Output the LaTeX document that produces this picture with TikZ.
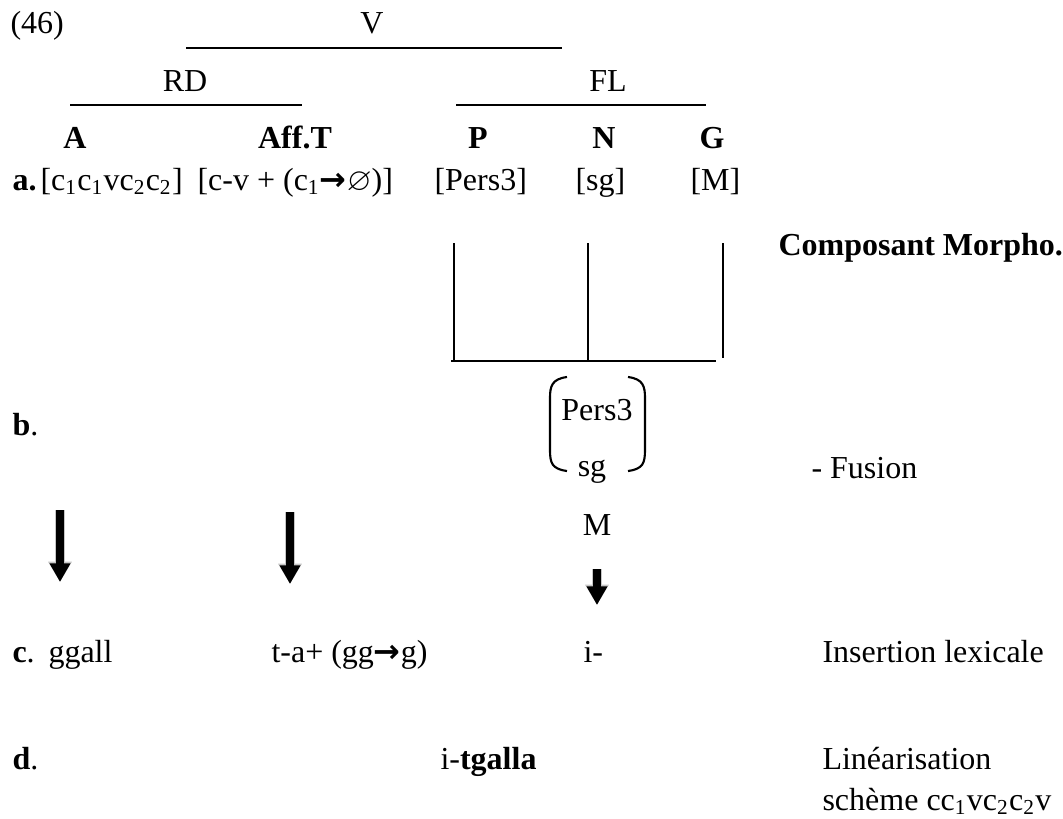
\documentclass[tikz,border=0pt]{standalone}
\usepackage{amssymb}
\usepackage{fontspec}
\setmainfont{Liberation Serif}
\newfontfamily\arrowfont{DejaVu Sans}
\usetikzlibrary{arrows.meta}

\newcommand{\ruleto}{{\arrowfont\bfseries →}}
\newcommand{\cs}[1]{c\textsubscript{#1}}

\begin{document}
\begin{tikzpicture}[
  x=0.375pt,y=-0.375pt,
  every node/.style={font=\fontsize{12pt}{14pt}\selectfont},
  txt/.style={inner sep=0pt,anchor=base west},
  ctr/.style={inner sep=0pt,anchor=base},
  bar/.style={line width=0.8pt},
  fat/.style={line width=3.2pt,-{Triangle[width=7.4pt,length=7pt]},
    preaction={draw=gray!45,line width=4pt,-{Triangle[width=8.4pt,length=7.6pt]}}}
]
  \useasboundingbox (0,0) rectangle (1063,819);
  % tree
  \node[txt] (ex) at (10,33) {(46)};
  \node[ctr] (v) at (372,33) {V};
  \draw[bar] (186,48) -- (562,48);
  \node[ctr] (rd) at (185,91) {RD};
  \node[ctr] (fl) at (608,91) {FL};
  \draw[bar] (70,105) -- (302,105);
  \draw[bar] (456,105) -- (706,105);
  \node[ctr] (A) at (75,148) {\textbf{A}};
  \node[ctr] (afft) at (295,148) {\textbf{Aff.T}};
  \node[ctr] (P) at (478,148) {\textbf{P}};
  \node[ctr] (N) at (604,148) {\textbf{N}};
  \node[ctr] (G) at (712,148) {\textbf{G}};
  % row a
  \node[txt] (la) at (12,190) {\textbf{a.}};
  \node[txt] (root) at (40,190) {[\cs1\cs1v\cs2\cs2]};
  \node[txt] (aff) at (197,190) {[c-v + (\cs1\ruleto$\varnothing$)]};
  \node[txt] (pers) at (434,190) {[Pers3]};
  \node[txt] (sg) at (575,190) {[sg]};
  \node[txt] (masc) at (690,190) {[M]};
  \node[txt] (morpho) at (778,255) {\textbf{Composant Morpho.}};
  % fusion box
  \draw[bar] (454,243) -- (454,361);
  \draw[bar] (588,243) -- (588,361);
  \draw[bar] (723,243) -- (723,358);
  \draw[bar] (451,361) -- (716,361);
  % row b
  \node[txt] (lb) at (12,435) {\textbf{b}.};
  \node[ctr] (fpers) at (597,420) {Pers3};
  \node[ctr] (fsg) at (592,476) {sg};
  \draw[bar] (567,377) .. controls (552,379) and (550,386) .. (550,398)
    -- (550,450) .. controls (550,463) and (552,469) .. (567,471);
  \draw[bar] (628,377) .. controls (643,379) and (645,386) .. (645,398)
    -- (645,450) .. controls (645,463) and (643,469) .. (628,471);
  \node[txt] (fusion) at (811,478) {- Fusion};
  \node[ctr] (fm) at (597,535) {M};
  % arrows
  \coordinate (s1) at (60,510);
  \coordinate (e1) at (60,582);
  \coordinate (s2) at (290,512);
  \coordinate (e2) at (290,584);
  \coordinate (s3) at (597,569);
  \coordinate (e3) at (597,605);
  \draw[fat] (s1) -- (e1);
  \draw[fat] (s2) -- (e2);
  \draw[fat] (s3) -- (e3);
  % row c
  \node[txt] (lc) at (12,662) {\textbf{c}.};
  \node[txt] (ggall) at (48,662) {ggall};
  \node[txt] (ta) at (271,662) {t-a+ (gg\ruleto g)};
  \node[txt] (pref) at (583,662) {i-};
  \node[txt] (insert) at (822,662) {Insertion lexicale};
  % row d
  \node[txt] (ld) at (12,769) {\textbf{d}.};
  \node[txt] (form) at (440,769) {i-\textbf{tgalla}};
  \node[txt] (linear) at (822,769) {Linéarisation};
  \node[txt] (scheme) at (822,810) {schème c\cs1v\cs2\cs2v};
\end{tikzpicture}
\end{document}
